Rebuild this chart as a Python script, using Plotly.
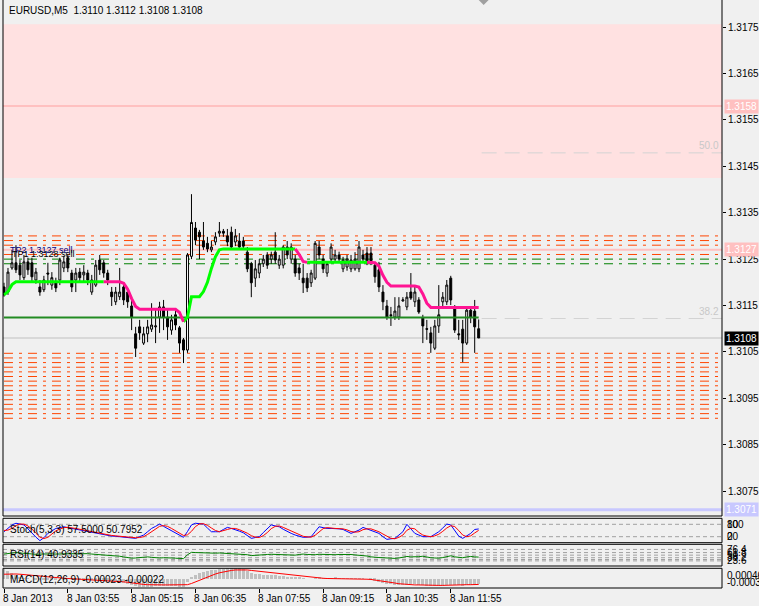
import plotly.graph_objects as go

# ---------------- data ----------------
tick_bars = [0, 16, 32, 48, 64, 80, 96, 112]
tick_labels = ["8 Jan 2013", "8 Jan 03:55", "8 Jan 05:15", "8 Jan 06:35",
               "8 Jan 07:55", "8 Jan 09:15", "8 Jan 10:35", "8 Jan 11:55"]
price_ticks = [1.3075, 1.3085, 1.3095, 1.3105, 1.3115, 1.3125, 1.3135,
               1.3145, 1.3155, 1.3165, 1.3175]

opens = [1.31190,1.31179,1.31231,1.31242,1.31237,1.31210,1.31244,1.31242,1.31205,1.31190,
         1.31184,1.31220,1.31194,1.31201,1.31205,1.31231,1.31253,1.31220,1.31205,1.31222,
         1.31216,1.31220,1.31179,1.31194,1.31248,1.31242,1.31220,1.31179,1.31158,1.31169,
         1.31190,1.31179,1.31149,1.31089,1.31104,1.31069,1.31089,1.31099,1.31104,1.31125,
         1.31147,1.31125,1.31097,1.31130,1.31102,1.31076,1.31054,1.31256,1.31317,1.31308,
         1.31289,1.31284,1.31270,1.31287,1.31306,1.31310,1.31300,1.31308,1.31287,1.31289,
         1.31289,1.31265,1.31240,1.31209,1.31220,1.31240,1.31259,1.31250,1.31265,1.31237,
         1.31237,1.31276,1.31250,1.31250,1.31231,1.31209,1.31209,1.31199,1.31209,1.31276,
         1.31250,1.31220,1.31250,1.31250,1.31259,1.31229,1.31233,1.31229,1.31229,1.31229,
         1.31259,1.31263,1.31263,1.31237,1.31227,1.31179,1.31149,1.31130,1.31125,1.31125,
         1.31160,1.31147,1.31179,1.31158,1.31162,1.31123,1.31100,1.31091,1.31058,1.31106,
         1.31158,1.31158,1.31209,1.31145,1.31089,1.31099,1.31069,1.31140,1.31138,1.31100]
highs = [1.31199,1.31231,1.31270,1.31280,1.31248,1.31259,1.31253,1.31253,1.31231,1.31205,
         1.31214,1.31242,1.31222,1.31210,1.31253,1.31257,1.31259,1.31227,1.31231,1.31231,
         1.31237,1.31227,1.31216,1.31248,1.31259,1.31248,1.31227,1.31190,1.31190,1.31231,
         1.31194,1.31184,1.31162,1.31104,1.31119,1.31104,1.31119,1.31155,1.31140,1.31158,
         1.31162,1.31140,1.31130,1.31140,1.31106,1.31080,1.31263,1.31390,1.31330,1.31313,
         1.31330,1.31298,1.31289,1.31308,1.31330,1.31315,1.31315,1.31320,1.31315,1.31306,
         1.31298,1.31276,1.31244,1.31248,1.31250,1.31259,1.31265,1.31266,1.31308,1.31259,
         1.31280,1.31289,1.31284,1.31259,1.31240,1.31240,1.31220,1.31227,1.31289,1.31289,
         1.31259,1.31244,1.31284,1.31270,1.31266,1.31255,1.31259,1.31259,1.31265,1.31289,
         1.31270,1.31276,1.31276,1.31244,1.31244,1.31194,1.31162,1.31147,1.31168,1.31168,
         1.31168,1.31179,1.31220,1.31190,1.31168,1.31130,1.31119,1.31104,1.31119,1.31194,
         1.31179,1.31205,1.31214,1.31151,1.31119,1.31119,1.31145,1.31145,1.31162,1.31120]
lows = [1.31169,1.31173,1.31227,1.31220,1.31205,1.31205,1.31216,1.31201,1.31197,1.31171,
        1.31179,1.31194,1.31184,1.31179,1.31194,1.31222,1.31222,1.31179,1.31179,1.31201,
        1.31199,1.31194,1.31173,1.31190,1.31216,1.31210,1.31194,1.31149,1.31151,1.31162,
        1.31151,1.31145,1.31097,1.31039,1.31076,1.31065,1.31071,1.31093,1.31069,1.31091,
        1.31097,1.31076,1.31087,1.31097,1.31048,1.31026,1.31048,1.31250,1.31280,1.31250,
        1.31270,1.31265,1.31265,1.31280,1.31298,1.31298,1.31278,1.31270,1.31278,1.31270,
        1.31270,1.31222,1.31168,1.31190,1.31209,1.31233,1.31229,1.31240,1.31240,1.31229,
        1.31230,1.31250,1.31240,1.31212,1.31205,1.31177,1.31179,1.31190,1.31205,1.31250,
        1.31220,1.31212,1.31244,1.31244,1.31244,1.31222,1.31225,1.31222,1.31225,1.31222,
        1.31244,1.31237,1.31237,1.31199,1.31179,1.31140,1.31119,1.31106,1.31119,1.31119,
        1.31158,1.31140,1.31162,1.31147,1.31132,1.31069,1.31076,1.31048,1.31054,1.31091,
        1.31147,1.31151,1.31151,1.31091,1.31076,1.31028,1.31065,1.31112,1.31048,1.31080]
closes = [1.31173,1.31222,1.31242,1.31227,1.31216,1.31244,1.31227,1.31212,1.31222,1.31179,
          1.31205,1.31218,1.31210,1.31188,1.31248,1.31244,1.31231,1.31190,1.31220,1.31210,
          1.31222,1.31205,1.31205,1.31237,1.31227,1.31220,1.31205,1.31169,1.31179,1.31179,
          1.31162,1.31158,1.31125,1.31058,1.31091,1.31089,1.31104,1.31108,1.31106,1.31147,
          1.31125,1.31104,1.31119,1.31108,1.31069,1.31054,1.31259,1.31329,1.31291,1.31298,
          1.31276,1.31272,1.31276,1.31298,1.31310,1.31306,1.31287,1.31276,1.31300,1.31276,
          1.31278,1.31229,1.31199,1.31229,1.31240,1.31250,1.31237,1.31259,1.31248,1.31250,
          1.31276,1.31259,1.31276,1.31220,1.31220,1.31199,1.31188,1.31220,1.31284,1.31259,
          1.31229,1.31240,1.31276,1.31259,1.31250,1.31248,1.31250,1.31248,1.31250,1.31276,
          1.31250,1.31244,1.31241,1.31212,1.31190,1.31158,1.31125,1.31128,1.31138,1.31149,
          1.31162,1.31168,1.31166,1.31179,1.31136,1.31106,1.31099,1.31069,1.31106,1.31130,
          1.31168,1.31194,1.31162,1.31097,1.31087,1.31069,1.31140,1.31125,1.31104,1.31080]

# thick trend indicator (value per bar) and its colour state per bar
trend = [1.31173,1.31180,1.31195,1.31201,1.31201,1.31201,1.31201,1.31201,1.31201,1.31201,
         1.31201,1.31201,1.31201,1.31201,1.31201,1.31201,1.31201,1.31201,1.31201,1.31201,
         1.31201,1.31201,1.31201,1.31201,1.31201,1.31201,1.31201,1.31201,1.31201,1.31201,
         1.31198,1.31185,1.31165,1.31148,1.31142,1.31142,1.31142,1.31142,1.31142,1.31142,
         1.31142,1.31142,1.31142,1.31142,1.31135,1.31115,1.31125,1.31169,1.31169,1.31169,
         1.31180,1.31200,1.31230,1.31255,1.31270,1.31272,1.31272,1.31272,1.31272,1.31272,
         1.31272,1.31272,1.31272,1.31272,1.31272,1.31272,1.31272,1.31272,1.31272,1.31272,
         1.31272,1.31272,1.31272,1.31272,1.31260,1.31245,1.31243,1.31243,1.31243,1.31243,
         1.31243,1.31243,1.31243,1.31243,1.31243,1.31243,1.31243,1.31243,1.31243,1.31243,
         1.31243,1.31243,1.31243,1.31242,1.31235,1.31215,1.31200,1.31192,1.31192,1.31192,
         1.31192,1.31192,1.31192,1.31192,1.31190,1.31175,1.31155,1.31146,1.31146,1.31146,
         1.31146,1.31146,1.31146,1.31146,1.31146,1.31146,1.31146,1.31146,1.31146,1.31146]
trend_dir = (["g"] * 26 + ["p"] * 20 + ["g"] * 28 + ["p"] * 3 + ["g"] * 15 + ["p"] * 28)

upper_orange = [1.3130, 1.3129, 1.3128, 1.3126]
green_levels = [1.3125, 1.3124]
lower_orange = [1.31047, 1.31037, 1.31027, 1.31017, 1.31007, 1.30997, 1.30987, 1.30977,
                1.30967, 1.30957, 1.30947, 1.30937, 1.30927, 1.30917, 1.30907]
pink_levels = [1.3158, 1.3127]
zone_low, zone_high = 1.31425, 1.31756
bid_price = 1.3108
blue_level = 1.3071
support_level = 1.31124
fib_levels = [1.31479, 1.31122]
fib_names = ["50.0", "38.2"]
object_labels = ["TP2 1.3127 sell", "TP1 1.3128 sell"]
object_label_prices = [1.31270, 1.31262]

stoch_main = [44,60,77,85,80,77,58,36,18,1, 15,36,48,60,64,68,64,60,56,52,
              48,44,40,36,32,28,26,23,22,20, 18,17,14,12,20,28,44,60,70,81,
              70,60,48,36,26,17,45,77,85,83, 81,62,44,44,44,55,65,60,55,47,
              39,25,12,16,20,40,60,77,72,68, 56,44,36,28,22,17,18,20,44,68,
              64,60,60,60,58,55,45,36,44,52, 65,58,52,44,36,20,7,10,12,28,
              44,80,58,36,28,20,20,20,32,44, 62,81,77,50,23,12,24,36,55,57.5]
stoch_signal = [50,52,60,74,81,81,72,57,37,18, 11,17,33,48,57,64,65,64,60,56,
                52,48,44,40,36,32,29,26,24,22, 20,18,16,15,16,20,31,44,58,70,
                74,70,60,48,37,26,29,46,69,82, 83,75,62,50,44,48,55,60,60,54,
                47,37,25,18,16,25,40,59,70,72, 65,56,45,36,29,22,19,18,27,44,
                59,64,61,60,59,58,53,45,42,44, 54,58,58,51,44,33,21,12,10,17,
                28,51,61,58,41,28,23,20,24,32, 46,62,73,69,50,28,20,24,38,50.7952]
stoch_levels = [80, 20]
stoch_scale_labels = ["100", "0"]

rsi = [55,57,60,62,60,58,56,55,54,55, 56,57,56,55,56,57,58,57,56,57,
       58,57,55,54,52,50,49,47,46,45, 42,38,36,37,39,41,42,40,38,37,
       38,39,37,36,35,34,52,63,62,61, 60,61,60,59,60,59,58,58,57,56,
       55,52,48,50,52,51,53,54,53,54, 52,50,48,50,53,55,53,51,52,54,
       53,52,53,52,53,54,52,53,51,50, 48,46,42,42,39,38,36,34,35,37,
       42,44,42,41,43,45,41,38,37,36, 39,44,47,42,40,38,42,44,42,40.9335]
rsi_levels = [76.4, 61.8, 50, 38.2, 30, 23.6]
rsi_level_labels = ["76.4", "61.8", "50", "38.2", "23.6"]

macd_hist = [4.0,3.2,2.4,1.6,0.8,0.3,0.1,0.0,-0.1,-0.2,
             -0.2,-0.2,-0.1,-0.1,0.0,0.1,0.1,0.0,-0.1,-0.1,
             -0.1,-0.2,-0.3,-0.2,-0.2,-0.4,-0.6,-0.9,-1.2,-1.5,
             -1.8,-2.2,-2.6,-3.0,-3.2,-3.3,-3.3,-3.2,-3.1,-3.0,
             -2.9,-2.9,-3.0,-3.1,-3.3,-3.5,-1.5,0.8,1.8,2.5,
             3.0,3.4,3.7,3.9,4.1,4.2,4.4,4.5,4.6,4.5,
             4.0,3.2,2.5,2.2,2.0,1.8,1.6,1.5,1.5,1.4,
             1.2,1.0,0.9,0.6,0.4,0.2,0.0,0.0,0.3,0.4,
             0.3,0.2,0.3,0.4,0.3,0.2,0.2,0.1,0.2,0.3,
             0.2,0.0,-0.3,-0.7,-1.1,-1.6,-2.0,-2.3,-2.5,-2.6,
             -2.5,-2.4,-2.3,-2.3,-2.4,-2.6,-2.8,-3.0,-3.1,-3.0,
             -2.8,-2.6,-2.5,-2.6,-2.7,-2.8,-2.6,-2.4,-2.4,-2.3]
macd_signal = [2.1,2.2,2.2,2.2,2.1,2.0,1.9,1.8,1.6,1.4,
               1.2,1.0,0.8,0.6,0.5,0.4,0.3,0.2,0.1,0.0,
               0.0,-0.1,-0.1,-0.2,-0.2,-0.3,-0.4,-0.5,-0.7,-0.9,
               -1.1,-1.3,-1.6,-1.9,-2.1,-2.2,-2.3,-2.4,-2.4,-2.4,
               -2.4,-2.4,-2.4,-2.5,-2.5,-2.5,-2.3,-1.8,-1.1,-0.4,
               0.4,1.1,1.7,2.2,2.7,3.1,3.4,3.7,3.9,4.0,
               4.0,3.9,3.7,3.5,3.3,3.1,2.9,2.7,2.5,2.3,
               2.1,1.9,1.7,1.5,1.3,1.1,0.9,0.7,0.6,0.5,
               0.4,0.3,0.3,0.2,0.2,0.2,0.1,0.1,0.1,0.1,
               0.0,0.0,-0.1,-0.3,-0.5,-0.7,-1.0,-1.3,-1.6,-1.9,
               -2.1,-2.3,-2.4,-2.4,-2.4,-2.5,-2.5,-2.6,-2.6,-2.6,
               -2.6,-2.5,-2.5,-2.4,-2.4,-2.4,-2.3,-2.3,-2.2,-2.2]
macd_scale = 1e-4
macd_max, macd_min = 0.00046, -0.00037

# ---------------- layout helpers ----------------
W, H = 759, 606
ML, MR, MT, MB = 3, 35, 0, 18
PW, PH = W - ML - MR, H - MT - MB


def px(x):
    return (x - ML) / PW


def py(y):
    return (H - MB - y) / PH


BG = "#F0F0F0"
n = len(closes)
xs = list(range(n))

main_dom = [py(516), 1.0]
stoch_dom = [py(542.7), py(518.3)]
rsi_dom = [py(566), py(544.3)]
macd_dom = [0.0, py(568.3)]

fig = go.Figure()

fig.add_trace(go.Candlestick(
    x=xs, open=opens, high=highs, low=lows, close=closes,
    increasing=dict(line=dict(color="black", width=1), fillcolor="white"),
    decreasing=dict(line=dict(color="black", width=1), fillcolor="black"),
    whiskerwidth=0, showlegend=False, hoverinfo="skip", xaxis="x", yaxis="y"))

fig.add_trace(go.Scatter(x=[0, n - 1], y=[support_level] * 2, mode="lines",
                         line=dict(color="#228B22", width=2), showlegend=False,
                         hoverinfo="skip"))

g_y, p_y = [], []
for i in range(n):
    g_on = trend_dir[i] == "g" or (i + 1 < n and trend_dir[i + 1] == "g")
    p_on = trend_dir[i] == "p" or (i + 1 < n and trend_dir[i + 1] == "p")
    g_y.append(trend[i] if g_on else None)
    p_y.append(trend[i] if p_on else None)
fig.add_trace(go.Scatter(x=xs, y=g_y, mode="lines", line=dict(color="#00FF00", width=3),
                         showlegend=False, hoverinfo="skip", connectgaps=False))
fig.add_trace(go.Scatter(x=xs, y=p_y, mode="lines", line=dict(color="#FF1493", width=3),
                         showlegend=False, hoverinfo="skip", connectgaps=False))

fig.add_trace(go.Scatter(x=xs, y=stoch_main, mode="lines", line=dict(color="#0000FF", width=1),
                         yaxis="y2", showlegend=False, hoverinfo="skip"))
fig.add_trace(go.Scatter(x=xs, y=stoch_signal, mode="lines", line=dict(color="#FF0000", width=1),
                         yaxis="y2", showlegend=False, hoverinfo="skip"))
fig.add_trace(go.Scatter(x=xs, y=rsi, mode="lines", line=dict(color="#008000", width=1),
                         yaxis="y3", showlegend=False, hoverinfo="skip"))
fig.add_trace(go.Bar(x=xs, y=[v * macd_scale for v in macd_hist],
                     marker=dict(color="#C0C0C0", line=dict(width=0)),
                     width=0.75, yaxis="y4", showlegend=False, hoverinfo="skip"))
fig.add_trace(go.Scatter(x=xs, y=[v * macd_scale for v in macd_signal], mode="lines",
                         line=dict(color="#FF0000", width=1), yaxis="y4", showlegend=False,
                         hoverinfo="skip"))

shapes = []
DASHDOT = "9px,6px,3px,6px"
shapes.append(dict(type="rect", xref="paper", yref="y", x0=0, x1=1, y0=zone_low, y1=zone_high,
                   fillcolor="#FFE1E1", line=dict(width=0), layer="below"))
for lv in upper_orange + lower_orange:
    shapes.append(dict(type="line", xref="paper", yref="y", x0=px(4), x1=1, y0=lv, y1=lv,
                       line=dict(color="#FF4500", width=1, dash=DASHDOT), layer="below"))
for lv in green_levels:
    shapes.append(dict(type="line", xref="paper", yref="y", x0=px(4), x1=1, y0=lv, y1=lv,
                       line=dict(color="#008000", width=1, dash=DASHDOT), layer="below"))
for lv in pink_levels:
    shapes.append(dict(type="line", xref="paper", yref="y", x0=0, x1=1, y0=lv, y1=lv,
                       line=dict(color="#FFC0C0", width=2), layer="below"))
shapes.append(dict(type="line", xref="paper", yref="y", x0=0, x1=1, y0=bid_price, y1=bid_price,
                   line=dict(color="#C0C0C0", width=1), layer="below"))
shapes.append(dict(type="line", xref="paper", yref="y", x0=0, x1=1, y0=blue_level, y1=blue_level,
                   line=dict(color="#C8C8FF", width=3), layer="below"))
for lv in fib_levels:
    shapes.append(dict(type="line", xref="paper", yref="y", x0=px(483), x1=1, y0=lv, y1=lv,
                       line=dict(color="#D3D3D3", width=1, dash="15px,8px"), layer="below"))
for lv in stoch_levels:
    shapes.append(dict(type="line", xref="paper", yref="y2", x0=0, x1=1, y0=lv, y1=lv,
                       line=dict(color="#A0A0A0", width=1, dash="4px,3px"), layer="below"))
for lv in rsi_levels:
    shapes.append(dict(type="line", xref="paper", yref="y3", x0=0, x1=1, y0=lv, y1=lv,
                       line=dict(color="#A0A0A0", width=1, dash="4px,3px"), layer="below"))
for d in (stoch_dom, rsi_dom, macd_dom):
    shapes.append(dict(type="rect", xref="paper", yref="paper", x0=0, x1=1, y0=d[0], y1=d[1],
                       line=dict(color="black", width=1), fillcolor="rgba(0,0,0,0)"))
shapes.append(dict(type="rect", xref="paper", yref="paper", x0=0, x1=1, y0=main_dom[0], y1=1.02,
                   line=dict(color="black", width=1), fillcolor="rgba(0,0,0,0)"))
shapes.append(dict(type="path", xref="paper", yref="paper",
                   path=f"M {px(480)} {py(0)} L {px(490)} {py(0)} L {px(485)} {py(5)} Z",
                   fillcolor="#A0A0A0", line=dict(width=0)))

FONT = "Liberation Sans"
ann = []
ann.append(dict(text="EURUSD,M5  1.3110 1.3112 1.3108 1.3108", xref="paper", yref="paper",
                x=px(7), y=py(11), xanchor="left", yanchor="middle", showarrow=False,
                font=dict(family=FONT, size=10, color="black")))
for b, lab in zip(tick_bars, tick_labels):
    ann.append(dict(text=lab, xref="x", yref="paper", x=b, y=py(598), xanchor="left",
                    yanchor="middle", showarrow=False, xshift=-3,
                    font=dict(family=FONT, size=10, color="black")))
for lv, bg in ((pink_levels[0], "#FFC0C0"), (pink_levels[1], "#FFC0C0"),
               (bid_price, "#000000"), (blue_level, "#C8C8FF")):
    ann.append(dict(text=f"{lv:.4f}", xref="paper", yref="y", x=1, y=lv, xanchor="left",
                    yanchor="middle", showarrow=False, xshift=2, bgcolor=bg, borderpad=1,
                    font=dict(family=FONT, size=10, color="white")))
for lv, name in zip(fib_levels, fib_names):
    ann.append(dict(text=name, xref="paper", yref="y", x=px(723), y=lv, xanchor="right",
                    yanchor="bottom", showarrow=False,
                    font=dict(family=FONT, size=10, color="#C8C8C8")))
for txt, lv, col, dx in zip(object_labels, object_label_prices, ("#000080", "#000000"), (0, 2)):
    ann.append(dict(text=txt, xref="paper", yref="y", x=px(8), y=lv, xanchor="left",
                    yanchor="middle", showarrow=False, xshift=dx,
                    font=dict(family=FONT, size=9, color=col)))
ann.append(dict(text=f"Stoch(5,3,3) {stoch_main[-1]:.4f} {stoch_signal[-1]:.4f}", xref="paper",
                yref="paper", x=px(8), y=py(529), xanchor="left", yanchor="middle",
                showarrow=False, font=dict(family=FONT, size=10, color="black")))
ann.append(dict(text=f"RSI(14) {rsi[-1]:.4f}", xref="paper", yref="paper", x=px(8), y=py(554),
                xanchor="left", yanchor="middle", showarrow=False,
                font=dict(family=FONT, size=10, color="black")))
ann.append(dict(text="MACD(12,26,9) -0.00023 -0.00022", xref="paper", yref="paper", x=px(8),
                y=py(579), xanchor="left", yanchor="middle", showarrow=False,
                font=dict(family=FONT, size=10, color="black")))
for lv, sl in zip(stoch_levels, stoch_scale_labels):
    for txt in (str(lv), sl):
        ann.append(dict(text=txt, xref="paper", yref="y2", x=1, y=lv, xanchor="left",
                        yanchor="middle", showarrow=False, xshift=3,
                        font=dict(family=FONT, size=10, color="black")))
for txt in rsi_level_labels:
    ann.append(dict(text=txt, xref="paper", yref="y3", x=1, y=float(txt), xanchor="left",
                    yanchor="middle", showarrow=False, xshift=3,
                    font=dict(family=FONT, size=10, color="black")))
for txt, yy in ((f"{macd_max:.5f}", 575), (f"{macd_min:.5f}", 582)):
    ann.append(dict(text=txt, xref="paper", yref="paper", x=1, y=py(yy), xanchor="left",
                    yanchor="middle", showarrow=False, xshift=3,
                    font=dict(family=FONT, size=10, color="black")))

main_range = [1.3158 - 410 / 46400, 1.3158 + 106 / 46400]

fig.update_layout(
    width=W, height=H, margin=dict(l=ML, r=MR, t=MT, b=MB),
    paper_bgcolor=BG, plot_bgcolor=BG, showlegend=False, bargap=0,
    shapes=shapes, annotations=ann,
    xaxis=dict(range=[-0.25, 180], anchor="y4", showgrid=False, zeroline=False,
               rangeslider=dict(visible=False), tickvals=tick_bars, ticktext=[""] * len(tick_bars),
               ticks="outside", ticklen=4, tickcolor="black", showline=False),
    yaxis=dict(domain=main_dom, range=main_range, side="right", anchor="x", showgrid=False,
               zeroline=False, tickvals=price_ticks, ticktext=[f"{t:.4f}" for t in price_ticks],
               ticks="outside", ticklen=3, tickcolor="black",
               tickfont=dict(family=FONT, size=10, color="black")),
    yaxis2=dict(domain=stoch_dom, range=[-9, 109], side="right", anchor="x", showgrid=False,
                zeroline=False, showticklabels=False),
    yaxis3=dict(domain=rsi_dom, range=[0, 100], side="right", anchor="x", showgrid=False,
                zeroline=False, showticklabels=False),
    yaxis4=dict(domain=macd_dom, range=[macd_min, macd_max], side="right", anchor="x",
                showgrid=False, zeroline=False, showticklabels=False),
)

fig.write_html("out.html", config={"displayModeBar": False},
               post_script="document.body.style.margin='0';document.body.style.background='#F0F0F0';")
